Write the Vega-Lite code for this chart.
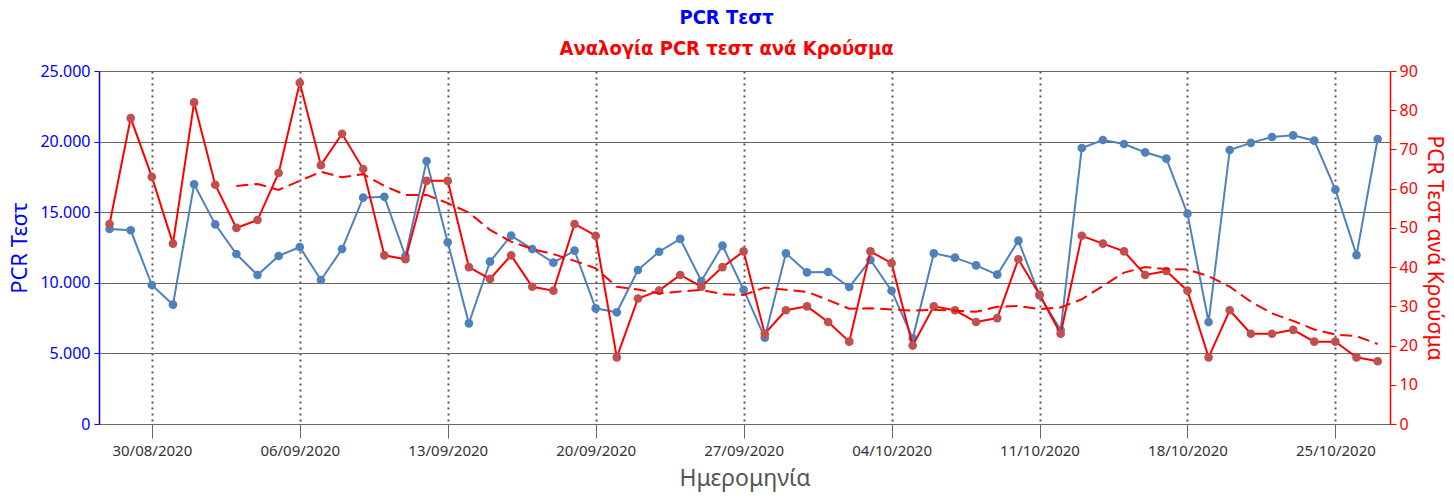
{
  "$schema": "https://vega.github.io/schema/vega-lite/v6.json",
  "width": 1291,
  "height": 353,
  "padding": {"left": 8, "top": 8, "right": 0, "bottom": 8},
  "autosize": {"type": "pad"},
  "background": "white",
  "config": {"view": {"stroke": null}},
  "title": {
    "text": "PCR Τεστ",
    "subtitle": "Αναλογία PCR τεστ ανά Κρούσμα",
    "font": "DejaVu Sans Condensed",
    "fontSize": 20,
    "fontWeight": "bold",
    "color": "#0000FF",
    "subtitleFont": "DejaVu Sans Condensed",
    "subtitleFontSize": 20,
    "subtitleFontWeight": "bold",
    "subtitleColor": "#FF0000",
    "subtitlePadding": 11,
    "anchor": "middle",
    "frame": "bounds",
    "offset": 4
  },
  "data": {
    "values": [
      {"date": "2020-08-28", "tests": 13810, "ratio": 51, "ma": null},
      {"date": "2020-08-29", "tests": 13720, "ratio": 78, "ma": null},
      {"date": "2020-08-30", "tests": 9844, "ratio": 63, "ma": null},
      {"date": "2020-08-31", "tests": 8450, "ratio": 46, "ma": null},
      {"date": "2020-09-01", "tests": 16975, "ratio": 82, "ma": null},
      {"date": "2020-09-02", "tests": 14140, "ratio": 61, "ma": null},
      {"date": "2020-09-03", "tests": 12040, "ratio": 50, "ma": 60.7},
      {"date": "2020-09-04", "tests": 10550, "ratio": 52, "ma": 61.2},
      {"date": "2020-09-05", "tests": 11900, "ratio": 64, "ma": 59.7},
      {"date": "2020-09-06", "tests": 12535, "ratio": 87, "ma": 62.0},
      {"date": "2020-09-07", "tests": 10200, "ratio": 66, "ma": 64.3},
      {"date": "2020-09-08", "tests": 12390, "ratio": 74, "ma": 62.9},
      {"date": "2020-09-09", "tests": 16030, "ratio": 65, "ma": 63.7},
      {"date": "2020-09-10", "tests": 16090, "ratio": 43, "ma": 60.7},
      {"date": "2020-09-11", "tests": 11900, "ratio": 42, "ma": 58.4},
      {"date": "2020-09-12", "tests": 18625, "ratio": 62, "ma": 58.4},
      {"date": "2020-09-13", "tests": 12870, "ratio": 62, "ma": 56.3},
      {"date": "2020-09-14", "tests": 7130, "ratio": 40, "ma": 53.9},
      {"date": "2020-09-15", "tests": 11500, "ratio": 37, "ma": 49.5},
      {"date": "2020-09-16", "tests": 13340, "ratio": 43, "ma": 46.5},
      {"date": "2020-09-17", "tests": 12390, "ratio": 35, "ma": 44.6},
      {"date": "2020-09-18", "tests": 11425, "ratio": 34, "ma": 43.3},
      {"date": "2020-09-19", "tests": 12275, "ratio": 51, "ma": 41.6},
      {"date": "2020-09-20", "tests": 8190, "ratio": 48, "ma": 39.7},
      {"date": "2020-09-21", "tests": 7910, "ratio": 17, "ma": 35.0},
      {"date": "2020-09-22", "tests": 10906, "ratio": 32, "ma": 34.3},
      {"date": "2020-09-23", "tests": 12200, "ratio": 34, "ma": 33.3},
      {"date": "2020-09-24", "tests": 13110, "ratio": 38, "ma": 33.8},
      {"date": "2020-09-25", "tests": 10127, "ratio": 35, "ma": 34.2},
      {"date": "2020-09-26", "tests": 12630, "ratio": 40, "ma": 33.1},
      {"date": "2020-09-27", "tests": 9510, "ratio": 44, "ma": 32.9},
      {"date": "2020-09-28", "tests": 6113, "ratio": 23, "ma": 34.8},
      {"date": "2020-09-29", "tests": 12087, "ratio": 29, "ma": 34.2},
      {"date": "2020-09-30", "tests": 10740, "ratio": 30, "ma": 33.7},
      {"date": "2020-10-01", "tests": 10765, "ratio": 26, "ma": 31.6},
      {"date": "2020-10-02", "tests": 9700, "ratio": 21, "ma": 29.4},
      {"date": "2020-10-03", "tests": 11614, "ratio": 44, "ma": 29.5},
      {"date": "2020-10-04", "tests": 9440, "ratio": 41, "ma": 29.2},
      {"date": "2020-10-05", "tests": 6068, "ratio": 20, "ma": 28.9},
      {"date": "2020-10-06", "tests": 12087, "ratio": 30, "ma": 29.1},
      {"date": "2020-10-07", "tests": 11780, "ratio": 29, "ma": 28.9},
      {"date": "2020-10-08", "tests": 11236, "ratio": 26, "ma": 28.6},
      {"date": "2020-10-09", "tests": 10575, "ratio": 27, "ma": 29.9},
      {"date": "2020-10-10", "tests": 12985, "ratio": 42, "ma": 30.1},
      {"date": "2020-10-11", "tests": 9110, "ratio": 33, "ma": 29.3},
      {"date": "2020-10-12", "tests": 6657, "ratio": 23, "ma": 29.7},
      {"date": "2020-10-13", "tests": 19546, "ratio": 48, "ma": 31.8},
      {"date": "2020-10-14", "tests": 20113, "ratio": 46, "ma": 35.2},
      {"date": "2020-10-15", "tests": 19830, "ratio": 44, "ma": 38.6},
      {"date": "2020-10-16", "tests": 19240, "ratio": 38, "ma": 40.0},
      {"date": "2020-10-17", "tests": 18790, "ratio": 39, "ma": 39.5},
      {"date": "2020-10-18", "tests": 14895, "ratio": 34, "ma": 39.4},
      {"date": "2020-10-19", "tests": 7220, "ratio": 17, "ma": 37.7},
      {"date": "2020-10-20", "tests": 19405, "ratio": 29, "ma": 35.0},
      {"date": "2020-10-21", "tests": 19910, "ratio": 23, "ma": 31.2},
      {"date": "2020-10-22", "tests": 20325, "ratio": 23, "ma": 28.2},
      {"date": "2020-10-23", "tests": 20445, "ratio": 24, "ma": 26.3},
      {"date": "2020-10-24", "tests": 20065, "ratio": 21, "ma": 24.1},
      {"date": "2020-10-25", "tests": 16595, "ratio": 21, "ma": 22.8},
      {"date": "2020-10-26", "tests": 11960, "ratio": 17, "ma": 22.4},
      {"date": "2020-10-27", "tests": 20185, "ratio": 16, "ma": 20.4}
    ]
  },
  "encoding": {
    "x": {
      "field": "date",
      "type": "temporal",
      "scale": {
        "type": "utc",
        "domain": [
          {"year": 2020, "month": 8, "date": 27, "hours": 12, "utc": true},
          {"year": 2020, "month": 10, "date": 27, "hours": 14, "utc": true}
        ]
      },
      "axis": {
        "values": [
          {"year": 2020, "month": 8, "date": 30, "utc": true},
          {"year": 2020, "month": 9, "date": 6, "utc": true},
          {"year": 2020, "month": 9, "date": 13, "utc": true},
          {"year": 2020, "month": 9, "date": 20, "utc": true},
          {"year": 2020, "month": 9, "date": 27, "utc": true},
          {"year": 2020, "month": 10, "date": 4, "utc": true},
          {"year": 2020, "month": 10, "date": 11, "utc": true},
          {"year": 2020, "month": 10, "date": 18, "utc": true},
          {"year": 2020, "month": 10, "date": 25, "utc": true}
        ],
        "format": "%d/%m/%Y",
        "labelFont": "Noto Sans",
        "labelFontSize": 15,
        "labelColor": "#333333",
        "labelPadding": 5,
        "labelOverlap": false,
        "tickColor": "#666666",
        "tickSize": 14,
        "domainColor": "#666666",
        "domainWidth": 1,
        "grid": true,
        "gridColor": "#555555",
        "gridDash": [2, 4],
        "gridWidth": 2,
        "title": "Ημερομηνία",
        "titleFont": "Noto Sans",
        "titleFontSize": 23,
        "titleFontWeight": "normal",
        "titleColor": "#555555",
        "titlePadding": 9
      }
    }
  },
  "layer": [
    {
      "encoding": {
        "y": {
          "field": "tests",
          "type": "quantitative",
          "scale": {"domain": [0, 25000], "nice": false},
          "axis": {
            "orient": "left",
            "values": [0, 5000, 10000, 15000, 20000, 25000],
            "labelExpr": "replace(format(datum.value, ','), ',', '.')",
            "labelFont": "Noto Sans",
            "labelFontSize": 16,
            "labelColor": "#0000FF",
            "labelPadding": 4,
            "labelOverlap": false,
            "labelBound": false,
            "tickColor": "#0000FF",
            "tickSize": 5,
            "domainColor": "#0000FF",
            "domainWidth": 1.5,
            "grid": true,
            "gridColor": "#666666",
            "gridWidth": 1,
            "title": "PCR Τεστ",
            "titleFont": "Noto Sans",
            "titleFontSize": 22,
            "titleFontWeight": "normal",
            "titleColor": "#0000FF",
            "titlePadding": 8
          }
        }
      },
      "layer": [
        {"mark": {"type": "line", "color": "#4F81BD", "strokeWidth": 2}},
        {"mark": {"type": "point", "filled": true, "color": "#4F81BD", "size": 75, "opacity": 1}}
      ]
    },
    {
      "encoding": {
        "y": {
          "field": "ratio",
          "type": "quantitative",
          "scale": {"domain": [0, 90], "nice": false},
          "axis": {
            "orient": "right",
            "values": [0, 10, 20, 30, 40, 50, 60, 70, 80, 90],
            "tickCount": 10,
            "labelFont": "Noto Sans",
            "labelFontSize": 16,
            "labelColor": "#FF0000",
            "labelPadding": 3,
            "labelOverlap": false,
            "labelBound": false,
            "labelFlush": false,
            "tickColor": "#FF0000",
            "tickSize": 6,
            "domainColor": "#FF0000",
            "domainWidth": 1.5,
            "grid": false,
            "title": "PCR Τεστ ανά Κρούσμα",
            "titleFont": "Noto Sans",
            "titleFontSize": 21,
            "titleFontWeight": "normal",
            "titleColor": "#FF0000",
            "titlePadding": 6
          }
        }
      },
      "layer": [
        {"mark": {"type": "line", "color": "#FF0000", "strokeWidth": 2}},
        {"mark": {"type": "point", "filled": true, "color": "#C0504D", "size": 75, "opacity": 1}},
        {
          "mark": {"type": "line", "color": "#FF0000", "strokeWidth": 2, "strokeDash": [12, 6]},
          "encoding": {
            "y": {
              "field": "ma",
              "type": "quantitative",
              "axis": {
                "orient": "right",
                "values": [0, 10, 20, 30, 40, 50, 60, 70, 80, 90],
                "tickCount": 10,
                "labelFont": "Noto Sans",
                "labelFontSize": 16,
                "labelColor": "#FF0000",
                "labelPadding": 3,
                "labelOverlap": false,
                "labelBound": false,
                "labelFlush": false,
                "tickColor": "#FF0000",
                "tickSize": 6,
                "domainColor": "#FF0000",
                "domainWidth": 1.5,
                "grid": false,
                "title": "PCR Τεστ ανά Κρούσμα",
                "titleFont": "Noto Sans",
                "titleFontSize": 21,
                "titleFontWeight": "normal",
                "titleColor": "#FF0000",
                "titlePadding": 6
              }
            }
          }
        }
      ]
    }
  ],
  "resolve": {"scale": {"y": "independent"}}
}
